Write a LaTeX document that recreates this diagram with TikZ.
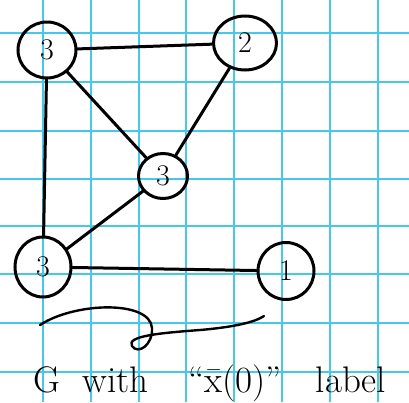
\documentclass[tikz,border=0pt]{standalone}
\usepackage{fontspec}
\usetikzlibrary{shapes.geometric}
\definecolor{gridcyan}{RGB}{70,200,232}
\tikzset{
  vtx/.style={draw=black, line width=3pt, ellipse, inner sep=0pt, font=\fontsize{30}{30}\selectfont},
  edge/.style={draw=black, line width=3pt, line cap=round},
  gridline/.style={draw=gridcyan, line width=1.8pt}
}
\begin{document}
\begin{tikzpicture}[x=1pt,y=-1pt]
\useasboundingbox (0,0) rectangle (409,402);
\fill[white] (0,0) rectangle (409,402);
% grid
\foreach \gx in {43,91,139,186,234,282,330,378}
  \draw[gridline] (\gx,0) -- (\gx,402);
\foreach \gy in {33,82,131,179,226,274,323,372}
  \draw[gridline] (0,\gy) -- (409,\gy);
% vertices
\node[vtx, minimum width=58pt, minimum height=56pt] (tl) at (47,50) {3};
\node[vtx, minimum width=63pt, minimum height=54pt] (tr) at (245,43) {2};
\node[vtx, minimum width=49pt, minimum height=45pt] (mid) at (163,176) {3};
\node[vtx, minimum width=56pt, minimum height=60pt] (bl) at (43,267) {3};
\node[vtx, minimum width=56pt, minimum height=57pt] (br) at (286,271) {1};
% edges
\draw[edge] (tl) -- (tr);
\draw[edge] (tl) -- (mid);
\draw[edge] (tl) -- (bl);
\draw[edge] (tr) -- (mid);
\draw[edge] (mid) -- (bl);
\draw[edge] (bl) -- (br);
% scribble
\draw[edge, line width=2.4pt] (40,325) .. controls (75,302) and (150,300) .. (152,328)
  .. controls (153,345) and (138,355) .. (132,346)
  .. controls (126,336) and (160,333) .. (200,330)
  .. controls (235,327) and (255,322) .. (264,316);
% caption
\node[font=\fontsize{37}{37}\selectfont, anchor=base, inner sep=0pt] (cap) at (210,392) {G\hspace{22pt}with\hspace{40pt}``\={x}(0)''\hspace{34pt}label};
\end{tikzpicture}
\end{document}
